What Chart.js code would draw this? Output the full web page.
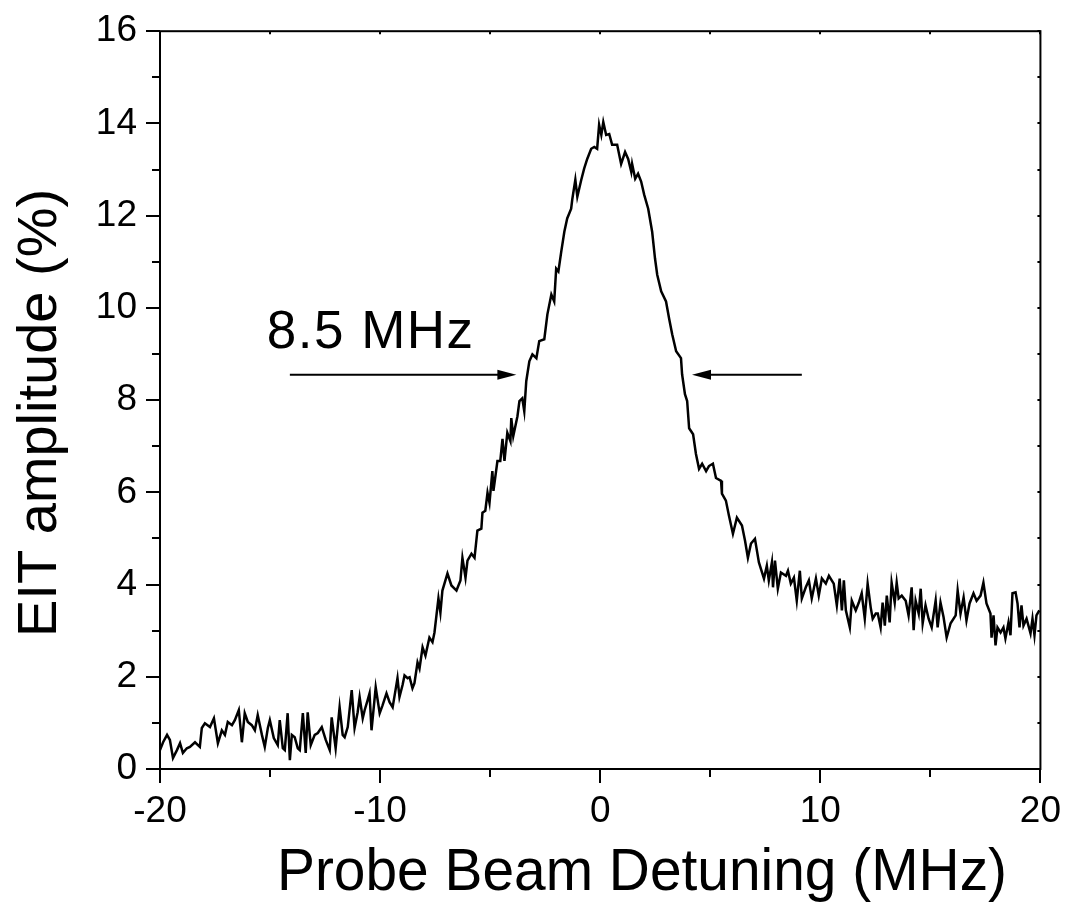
<!DOCTYPE html>
<html><head><meta charset="utf-8">
<script src="https://cdn.jsdelivr.net/npm/chart.js@4.4.1/dist/chart.umd.min.js"></script>
<style>html,body{margin:0;padding:0;background:#fff;}canvas{display:block;}</style>
</head><body>
<canvas id="c" width="1068" height="904"></canvas>
<script>
const detuning = [
-20.00,-19.86,-19.68,-19.55,-19.41,-19.23,-19.09,-18.96,-18.78,-18.64,
-18.41,-18.19,-18.10,-17.96,-17.73,-17.55,-17.37,-17.19,-17.05,-16.92,
-16.73,-16.60,-16.42,-16.28,-16.15,-16.01,-15.83,-15.69,-15.56,-15.37,
-15.24,-15.10,-15.01,-14.83,-14.65,-14.56,-14.42,-14.33,-14.20,-14.10,
-14.01,-13.88,-13.74,-13.65,-13.51,-13.38,-13.29,-13.15,-12.97,-12.83,
-12.65,-12.47,-12.29,-12.20,-12.02,-11.84,-11.70,-11.61,-11.47,-11.29,
-11.16,-11.02,-10.93,-10.79,-10.70,-10.57,-10.48,-10.39,-10.20,-10.02,
-9.89,-9.71,-9.57,-9.43,-9.30,-9.21,-9.12,-8.98,-8.89,-8.75,
-8.66,-8.53,-8.44,-8.30,-8.21,-8.07,-7.94,-7.76,-7.62,-7.53,
-7.35,-7.26,-7.17,-6.94,-6.76,-6.53,-6.35,-6.26,-6.12,-6.03,
-5.85,-5.71,-5.58,-5.40,-5.35,-5.22,-5.12,-5.03,-4.90,-4.85,
-4.67,-4.54,-4.44,-4.35,-4.22,-4.08,-4.04,-3.95,-3.76,-3.67,
-3.54,-3.45,-3.36,-3.22,-3.08,-2.90,-2.77,-2.54,-2.40,-2.22,
-2.09,-2.00,-1.90,-1.77,-1.63,-1.50,-1.32,-1.27,-1.13,-1.04,
-0.86,-0.73,-0.59,-0.41,-0.27,-0.14,-0.05,0.05,0.14,0.27,
0.41,0.54,0.77,0.95,1.13,1.27,1.41,1.45,1.59,1.72,
1.86,2.00,2.18,2.36,2.49,2.59,2.77,2.99,3.13,3.27,
3.45,3.67,3.72,3.85,3.95,4.04,4.22,4.35,4.49,4.63,
4.81,4.94,5.12,5.26,5.49,5.53,5.71,5.85,6.03,6.21,
6.44,6.58,6.71,6.85,7.03,7.21,7.44,7.57,7.66,7.80,
7.85,7.94,8.07,8.21,8.44,8.53,8.66,8.80,8.93,9.07,
9.16,9.34,9.48,9.61,9.80,9.93,10.07,10.25,10.39,10.61,
10.75,10.88,10.98,11.07,11.16,11.34,11.43,11.61,11.75,11.88,
12.02,12.15,12.29,12.38,12.52,12.61,12.74,12.83,12.93,13.02,
13.15,13.24,13.38,13.47,13.56,13.70,13.88,14.01,14.15,14.24,
14.33,14.47,14.56,14.65,14.78,14.92,15.06,15.24,15.33,15.46,
15.60,15.74,15.92,16.15,16.24,16.37,16.51,16.64,16.78,16.96,
17.10,17.28,17.41,17.55,17.73,17.78,17.87,17.96,18.05,18.19,
18.32,18.41,18.55,18.64,18.73,18.87,18.96,19.05,19.14,19.23,
19.37,19.55,19.64,19.73,19.82,19.95
];
const amplitude = [
0.41,0.58,0.74,0.63,0.24,0.41,0.56,0.35,0.45,0.48,
0.58,0.48,0.89,0.99,0.91,1.10,0.56,0.84,0.74,1.02,
0.95,1.06,1.28,0.58,1.21,1.02,0.95,0.84,1.17,0.74,
0.48,0.89,1.06,0.67,0.52,1.06,0.45,0.41,1.21,0.19,
0.74,0.69,0.45,0.41,1.21,0.35,1.23,0.52,0.74,0.78,
0.91,0.63,0.41,1.12,0.45,1.34,0.74,0.69,0.91,1.71,
0.89,1.23,1.56,1.10,1.28,1.49,1.64,0.84,1.77,1.21,
1.38,1.64,1.45,1.34,1.71,1.97,1.56,1.82,2.03,1.97,
1.99,1.75,1.86,2.31,2.18,2.64,2.46,2.85,2.75,2.96,
3.70,3.39,3.87,4.24,3.98,3.87,4.09,4.58,4.15,4.52,
4.67,4.58,5.17,5.21,5.56,5.60,5.99,5.77,6.46,6.03,
6.68,6.68,7.16,6.68,7.29,7.11,7.61,7.22,7.65,7.98,
8.04,7.76,8.41,8.84,8.99,8.91,9.28,9.32,9.86,10.29,
10.14,10.85,10.79,11.22,11.65,11.94,12.15,12.35,12.78,12.41,
12.78,13.02,13.23,13.45,13.49,13.45,13.97,13.75,14.03,13.75,
13.77,13.54,13.54,13.12,13.38,13.23,12.95,13.12,12.80,12.91,
12.74,12.45,12.15,11.65,11.07,10.72,10.36,10.14,9.77,9.43,
9.06,8.91,8.56,8.13,7.98,7.39,7.26,6.83,6.51,6.62,
6.46,6.57,6.62,6.31,6.25,5.97,5.82,5.49,5.10,5.45,
5.28,4.95,4.58,4.89,4.99,4.48,4.13,4.41,4.09,4.48,
3.94,4.52,3.91,4.26,4.19,4.30,4.02,4.15,3.65,4.30,
3.70,3.94,4.09,3.70,4.13,3.76,4.13,4.02,4.19,4.02,
3.55,4.13,3.44,4.09,3.44,3.07,3.65,3.44,3.61,3.81,
3.26,4.02,3.50,3.26,3.37,3.37,3.07,3.61,3.11,3.76,
3.18,4.04,3.61,4.04,3.70,3.76,3.65,3.33,3.94,3.01,
3.65,3.37,3.91,3.16,3.55,3.26,3.07,3.65,3.07,3.61,
3.29,2.85,3.16,3.33,3.87,3.37,3.72,3.22,3.59,3.81,
3.65,3.76,4.04,3.59,3.37,2.85,3.33,2.68,3.07,2.96,
3.07,2.83,3.18,2.90,3.81,3.83,3.59,3.07,3.55,3.11,
3.26,2.94,3.26,2.90,3.33,3.44
];
const xTicks = [-20, -10, 0, 10, 20];
const yTicks = [0, 2, 4, 6, 8, 10, 12, 14, 16];
const xMinorTicks = [-20, -15, -10, -5, 0, 5, 10, 15, 20];
const yMinorTicks = [0,1,2,3,4,5,6,7,8,9,10,11,12,13,14,15,16];
const xTitle = 'Probe Beam Detuning (MHz)';
const yTitle = 'EIT amplitude (%)';
const widthLabel = '8.5 MHz';
const widthLabelAt = [-15.15, 9.12];
const arrowLeft = [-14.1, -3.81, 8.55];   // from x, to x, y
const arrowRight = [9.16, 4.17, 8.55];    // from x, to x, y

const FONT = "'Liberation Sans', Arial, Helvetica, sans-serif";

function arrow(ctx, x0, x1, y) {
  const dir = Math.sign(x1 - x0);
  const hl = 19, hw = 5;
  ctx.beginPath();
  ctx.moveTo(x0, y); ctx.lineTo(x1 - dir * hl * 0.8, y);
  ctx.stroke();
  ctx.beginPath();
  ctx.moveTo(x1, y);
  ctx.lineTo(x1 - dir * hl, y - hw);
  ctx.lineTo(x1 - dir * hl, y + hw);
  ctx.closePath();
  ctx.fill();
}

const decor = {
  id: 'decor',
  afterDatasetsDraw(chart) {
    const { ctx, chartArea: a, scales: { x, y } } = chart;
    ctx.save();
    ctx.strokeStyle = '#000';
    ctx.fillStyle = '#000';
    ctx.lineWidth = 2;
    ctx.strokeRect(a.left, a.top, a.right - a.left, a.bottom - a.top);
    ctx.beginPath();
    xMinorTicks.forEach(v => {
      const px = Math.round(x.getPixelForValue(v));
      const major = xTicks.includes(v);
      ctx.moveTo(px, a.bottom); ctx.lineTo(px, a.bottom + (major ? 14 : 8));
      ctx.moveTo(px, a.top); ctx.lineTo(px, a.top + 3);
    });
    yMinorTicks.forEach(v => {
      const py = Math.round(y.getPixelForValue(v));
      const major = yTicks.includes(v);
      ctx.moveTo(a.left, py); ctx.lineTo(a.left - (major ? 14 : 8), py);
      ctx.moveTo(a.right, py); ctx.lineTo(a.right - 3, py);
    });
    ctx.stroke();

    // annotation
    ctx.lineWidth = 2;
    arrow(ctx, x.getPixelForValue(arrowLeft[0]), x.getPixelForValue(arrowLeft[1]), y.getPixelForValue(arrowLeft[2]));
    arrow(ctx, x.getPixelForValue(arrowRight[0]), x.getPixelForValue(arrowRight[1]), y.getPixelForValue(arrowRight[2]));
    ctx.font = '53px ' + FONT;
    ctx.textAlign = 'left';
    ctx.textBaseline = 'alphabetic';
    try { ctx.letterSpacing = '1.5px'; } catch (e) {}
    ctx.fillText(widthLabel, x.getPixelForValue(widthLabelAt[0]), y.getPixelForValue(widthLabelAt[1]));
    try { ctx.letterSpacing = '0px'; } catch (e) {}

    // axis titles
    ctx.font = '60px ' + FONT;
    ctx.textAlign = 'left';
    ctx.fillText(xTitle, 277, 890, 730);
    ctx.save();
    ctx.translate(56, 637);
    ctx.rotate(-Math.PI / 2);
    ctx.font = '56px ' + FONT;
    ctx.fillText(yTitle, 0, 0);
    ctx.restore();
    ctx.restore();
  }
};

new Chart(document.getElementById('c'), {
  type: 'line',
  data: {
    datasets: [{
      data: detuning.map((v, i) => ({ x: v, y: amplitude[i] })),
      borderColor: '#000',
      borderWidth: 2.5,
      pointRadius: 0,
      tension: 0,
      fill: false
    }]
  },
  options: {
    responsive: false,
    animation: false,
    devicePixelRatio: 1,
    layout: { padding: { top: 28, right: 26, left: 0, bottom: 0 } },
    plugins: { legend: { display: false }, tooltip: { enabled: false } },
    scales: {
      x: {
        type: 'linear', min: -20, max: 20,
        afterBuildTicks: s => { s.ticks = xTicks.map(v => ({ value: v })); },
        afterFit: s => { s.height = 135; },
        grid: { display: false, drawTicks: true, tickLength: 14 },
        border: { display: false },
        ticks: { color: '#000', font: { size: 37, family: FONT }, padding: 7, maxRotation: 0, autoSkip: false }
      },
      y: {
        type: 'linear', min: 0, max: 16,
        afterBuildTicks: s => { s.ticks = yTicks.map(v => ({ value: v })); },
        afterFit: s => { s.width = 160; },
        grid: { display: false, drawTicks: true, tickLength: 14 },
        border: { display: false },
        ticks: { color: '#000', font: { size: 37, family: FONT }, padding: 9, autoSkip: false }
      }
    }
  },
  plugins: [decor]
});
</script>
</body></html>
